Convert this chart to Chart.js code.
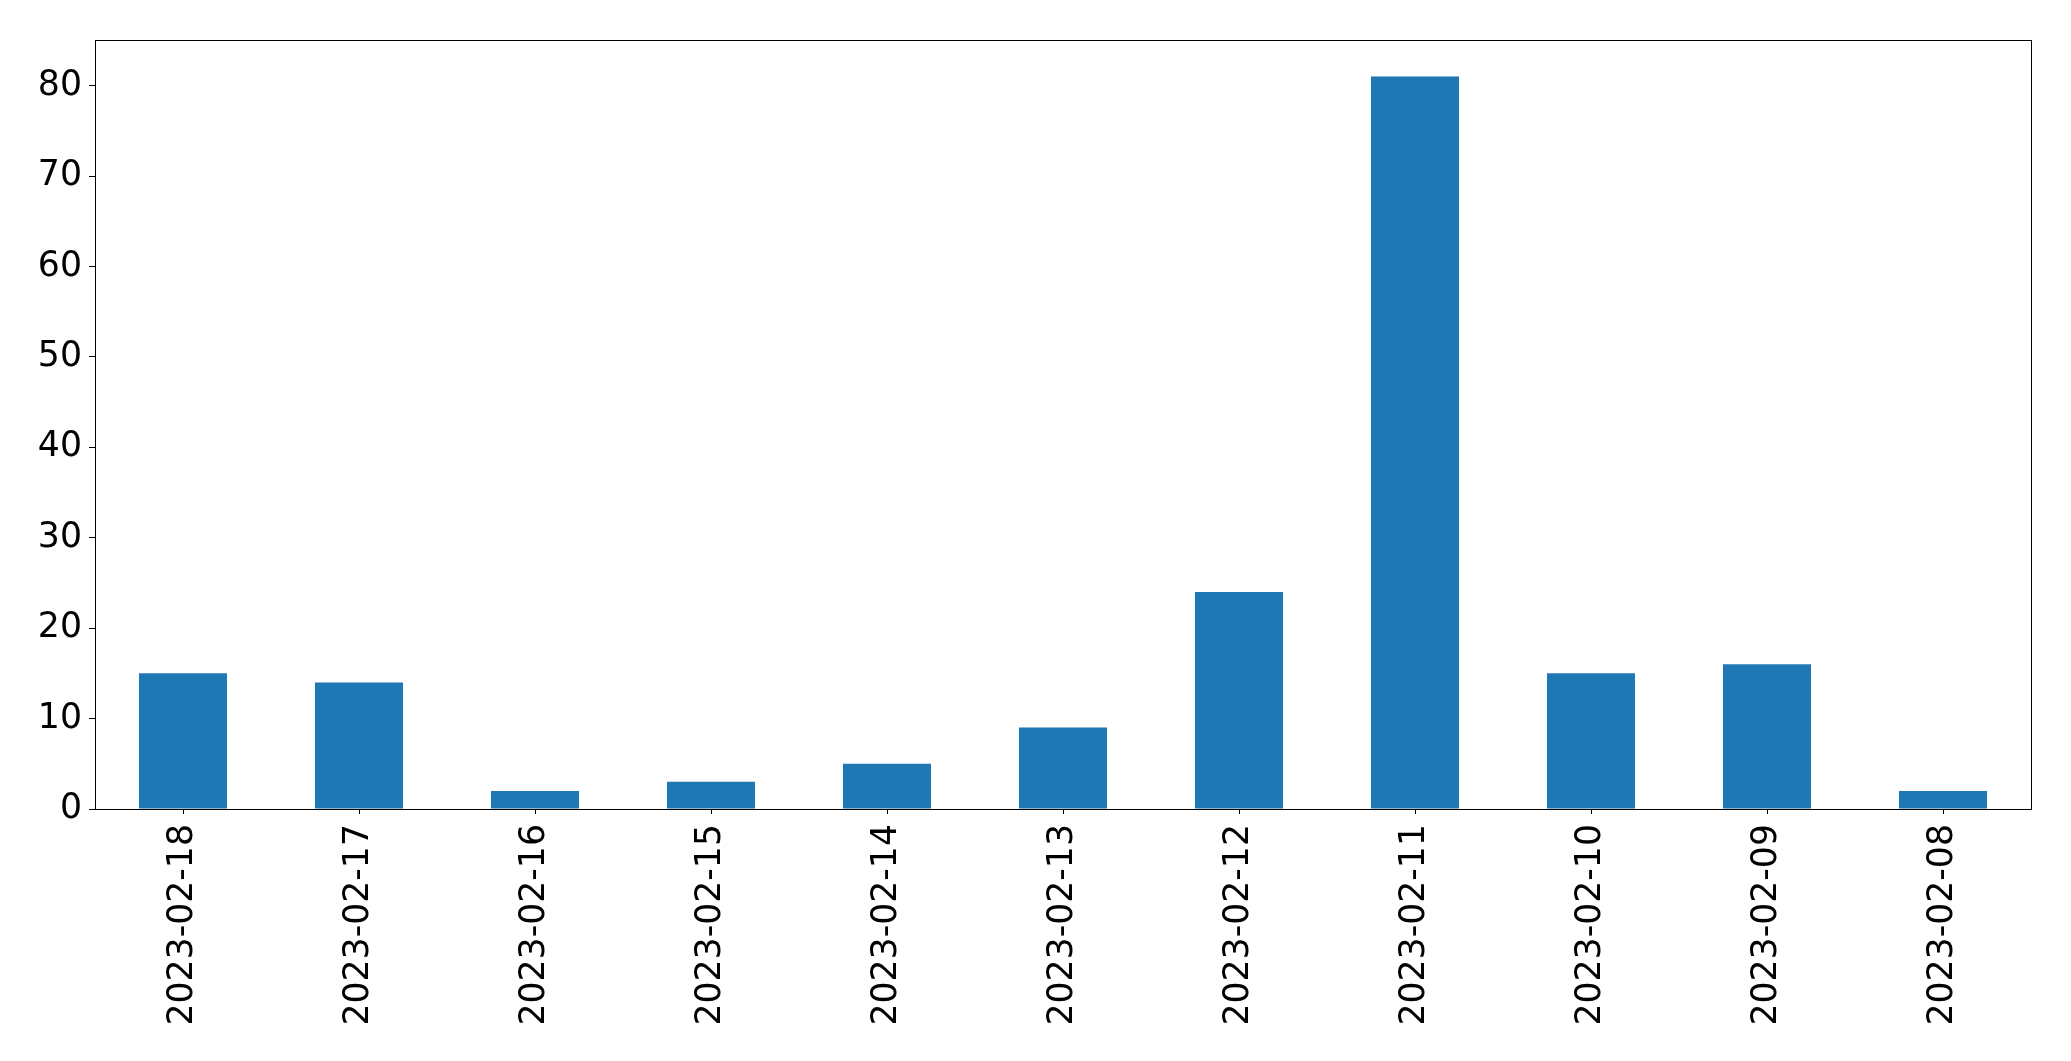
<!DOCTYPE html>
<html>
<head>
<meta charset="utf-8">
<script src="https://cdn.jsdelivr.net/npm/chart.js@4.4.0/dist/chart.umd.min.js"></script>
<style>
  html, body { margin: 0; padding: 0; background: #fff; }
  #wrap { width: 2071px; height: 1061px; }
</style>
</head>
<body>
<div id="wrap"><canvas id="barChart" width="2071" height="1061"></canvas></div>
<script>
// Daily counts, newest first (as in the source figure)
const dates = ['2023-02-18', '2023-02-17', '2023-02-16', '2023-02-15', '2023-02-14',
               '2023-02-13', '2023-02-12', '2023-02-11', '2023-02-10', '2023-02-09', '2023-02-08'];
const counts = [15, 14, 2, 3, 5, 9, 24, 81, 15, 16, 2];
const yTicks = [0, 10, 20, 30, 40, 50, 60, 70, 80];

const FONT = { family: 'DejaVu Sans', size: 34.7 };

// matplotlib-style box around the plot area
const frame = {
    id: 'frame',
    afterDraw(chart) {
        const a = chart.chartArea;
        const c = chart.ctx;
        const l = Math.round(a.left) + 0.5, t = Math.round(a.top) + 0.5;
        const r = Math.round(a.right) + 0.5, b = Math.round(a.bottom) + 0.5;
        c.save();
        c.strokeStyle = '#000';
        c.lineWidth = 1;
        c.strokeRect(l, t, r - l, b - t);
        c.restore();
    }
};

new Chart(document.getElementById('barChart'), {
    type: 'bar',
    data: {
        labels: dates,
        datasets: [{
            data: counts,
            backgroundColor: '#1f77b4',
            borderWidth: 0,
            barPercentage: 0.5,
            categoryPercentage: 1.0
        }]
    },
    options: {
        responsive: false,
        animation: false,
        layout: { padding: { top: 40, right: 40, left: 0, bottom: 0 } },
        plugins: { legend: { display: false }, tooltip: { enabled: false } },
        scales: {
            x: {
                afterFit: s => { s.height = 252; },
                grid: { display: true, drawOnChartArea: false, drawTicks: true, tickLength: 5, color: '#000', lineWidth: 1, offset: false },
                border: { display: false },
                ticks: { color: '#000', font: FONT, minRotation: 90, maxRotation: 90, padding: 10, autoSkip: false }
            },
            y: {
                min: 0,
                max: 85.05,
                afterFit: s => { s.width = 95; },
                afterBuildTicks: s => { s.ticks = yTicks.map(v => ({ value: v })); },
                grid: { display: true, drawOnChartArea: false, drawTicks: true, tickLength: 6, color: '#000', lineWidth: 1 },
                border: { display: false },
                ticks: { color: '#000', font: FONT, padding: 7 }
            }
        }
    },
    plugins: [frame]
});
</script>
</body>
</html>
